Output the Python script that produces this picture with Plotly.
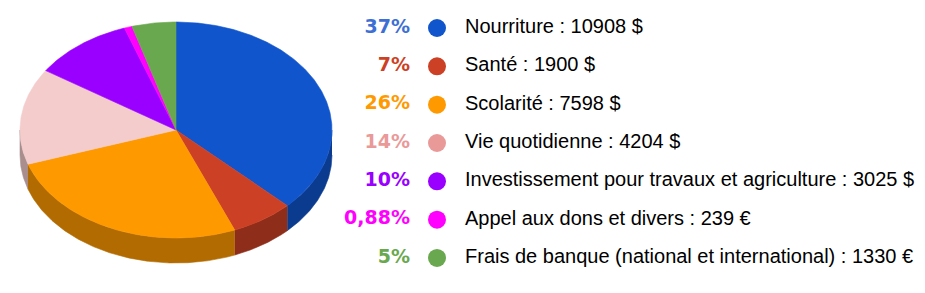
import numpy as np
import plotly.graph_objects as go

# ---- data ----
categories = ["Nourriture", "Santé", "Scolarité", "Vie quotidienne",
              "Investissement pour travaux et agriculture",
              "Appel aux dons et divers",
              "Frais de banque (national et international)"]
amounts = [10908, 1900, 7598, 4204, 3025, 239, 1330]
currencies = ["$", "$", "$", "$", "$", "€", "€"]
percent_labels = ["37%", "7%", "26%", "14%", "10%", "0,88%", "5%"]

# ---- style ----
slice_colors = ["#1155cc", "#cc4125", "#ff9900", "#f4cccc", "#9900ff", "#ff00ff", "#6aa84f"]
marker_colors = ["#1155cc", "#cc4125", "#ff9900", "#ea9999", "#9900ff", "#ff00ff", "#6aa84f"]
pct_colors = ["#3d6fd4", "#cc4125", "#ff9900", "#ea9999", "#9900ff", "#ff00ff", "#6aa84f"]

W, H = 925, 293
cx, cy, rx, ry, depth = 176, 130, 156, 108, 25
row0, row_step = 28, 38.33
pct_x, mark_x, label_x = 410, 437, 465


def darker(hexc, f=0.7):
    r, g, b = (int(hexc[i:i + 2], 16) for i in (1, 3, 5))
    return "#%02x%02x%02x" % (int(r * f), int(g * f), int(b * f))


def pt(theta_deg):
    t = np.radians(theta_deg)
    return cx + rx * np.sin(t), cy - ry * np.cos(t)


fig = go.Figure()

vals = np.array(amounts, dtype=float)
frac = vals / vals.sum()
bounds = np.concatenate([[0], np.cumsum(frac) * 360])

# side walls (front half only: 90..270 deg)
for i in range(len(vals)):
    a, b = max(bounds[i], 90), min(bounds[i + 1], 270)
    if b <= a:
        continue
    th = np.linspace(a, b, max(4, int((b - a) * 2)))
    xs, ys = pt(th)
    px = np.concatenate([xs, xs[::-1]])
    py = np.concatenate([ys, ys[::-1] + depth])
    col = darker(slice_colors[i])
    fig.add_trace(go.Scatter(x=px, y=py, fill="toself", mode="lines",
                             fillcolor=col, line=dict(color=col, width=0.6),
                             hoverinfo="skip", showlegend=False))

# top faces
for i in range(len(vals)):
    a, b = bounds[i], bounds[i + 1]
    th = np.linspace(a, b, max(4, int((b - a) * 2)))
    xs, ys = pt(th)
    px = np.concatenate([[cx], xs, [cx]])
    py = np.concatenate([[cy], ys, [cy]])
    fig.add_trace(go.Scatter(x=px, y=py, fill="toself", mode="lines",
                             fillcolor=slice_colors[i],
                             line=dict(color=slice_colors[i], width=0.6),
                             hoverinfo="skip", showlegend=False))

# legend
rows = [row0 + k * row_step for k in range(len(categories))]
labels = [f"{c} : {v} {cur}" for c, v, cur in zip(categories, amounts, currencies)]

fig.add_trace(go.Scatter(x=[pct_x] * len(rows), y=rows, mode="text",
                         text=percent_labels, textposition="middle left",
                         textfont=dict(family="DejaVu Sans", size=19, color=pct_colors, weight="bold"),
                         hoverinfo="skip", showlegend=False))
fig.add_trace(go.Scatter(x=[mark_x] * len(rows), y=rows, mode="markers",
                         marker=dict(size=18, color=marker_colors, line=dict(width=0)),
                         hoverinfo="skip", showlegend=False))
fig.add_trace(go.Scatter(x=[label_x] * len(rows), y=rows, mode="text",
                         text=labels, textposition="middle right",
                         textfont=dict(family="Liberation Sans, Arial", size=20, color="#000000"),
                         hoverinfo="skip", showlegend=False))

fig.update_layout(
    width=W, height=H,
    margin=dict(l=0, r=0, t=0, b=0),
    paper_bgcolor="white", plot_bgcolor="white",
    xaxis=dict(range=[0, W], visible=False, fixedrange=True),
    yaxis=dict(range=[H, 0], visible=False, fixedrange=True),
    showlegend=False,
)

fig.write_html("out.html")
